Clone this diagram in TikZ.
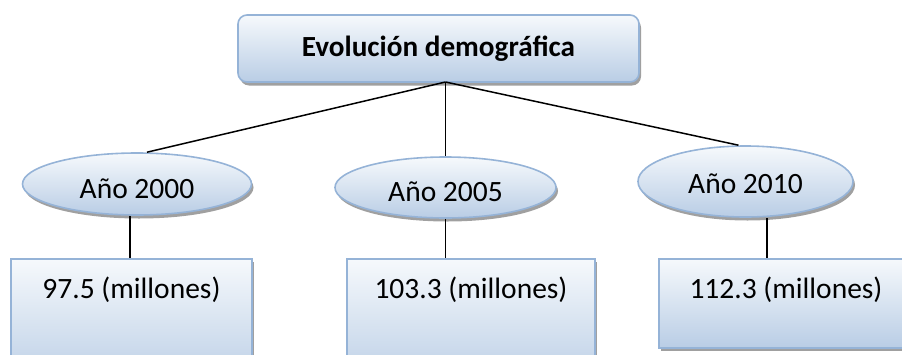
\documentclass[tikz,border=0pt]{standalone}
\usepackage{fontspec}
\setmainfont{Carlito}
\usetikzlibrary{shapes.geometric,shadows,calc}
\definecolor{bord}{RGB}{149,179,215}
\definecolor{topc}{RGB}{246,249,252}
\definecolor{botc}{RGB}{185,205,229}
\definecolor{shad}{RGB}{150,150,150}
\begin{document}
\begin{tikzpicture}[x=1pt,y=-1pt,
  office/.style={draw=bord, line width=1.6pt, top color=topc, bottom color=botc,
    drop shadow={shadow xshift=2pt, shadow yshift=-3.5pt, fill=shad, opacity=0.9}},
  titlebox/.style={office, rectangle, rounded corners=9pt, minimum width=401pt, minimum height=67pt, inner sep=0pt,
    font=\fontsize{29.2}{33}\selectfont\bfseries},
  yearell/.style={office, ellipse, inner sep=0pt, text depth=0pt, font=\fontsize{29.5}{33}\selectfont},
  valbox/.style={office, rectangle, inner sep=0pt, anchor=north, text height=40pt,
    font=\fontsize{29.5}{33}\selectfont},
  conn/.style={line width=1.5pt, black}]
\useasboundingbox (0,0) rectangle (902,354);
\begin{scope}
\clip (0,0) rectangle (902,354);
\node[titlebox] (title) at (438.5,48.5) {Evolución demográfica};
\node[yearell, minimum width=229pt, minimum height=62pt, text height=28pt] (e1) at (137,184) {Año 2000};
\node[yearell, minimum width=221pt, minimum height=61pt, text height=28pt] (e2) at (445.5,187.5) {Año 2005};
\node[yearell, minimum width=215pt, minimum height=71pt, text height=24pt] (e3) at (745.5,181.5) {Año 2010};
\node[valbox, minimum width=241pt, text depth=90pt] (b1) at (131.5,258) {97.5 (millones)};
\node[valbox, minimum width=248pt, text depth=90pt] (b2) at (471,258) {103.3 (millones)};
\node[valbox, minimum width=254pt, text depth=49pt] (b3) at (786,258) {112.3 (millones)};
\coordinate (root) at (445.5,82);
\coordinate (e1top) at ($(e1.north)+(10,0)$);
\coordinate (e3top) at ($(e3.north)+(-7,0)$);
\coordinate (e1bot) at ($(e1.south)+(-7,0)$);
\coordinate (e3bot) at ($(e3.south)+(21.5,0)$);
\draw[conn] (root) -- (e1top);
\draw[conn] (root) -- (root |- e2.north);
\draw[conn] (root) -- (e3top);
\draw[conn] (e1bot) -- (e1bot |- b1.north);
\draw[conn] (e2.south) -- (e2.south |- b2.north);
\draw[conn] (e3bot) -- (e3bot |- b3.north);
\end{scope}
\end{tikzpicture}
\end{document}
